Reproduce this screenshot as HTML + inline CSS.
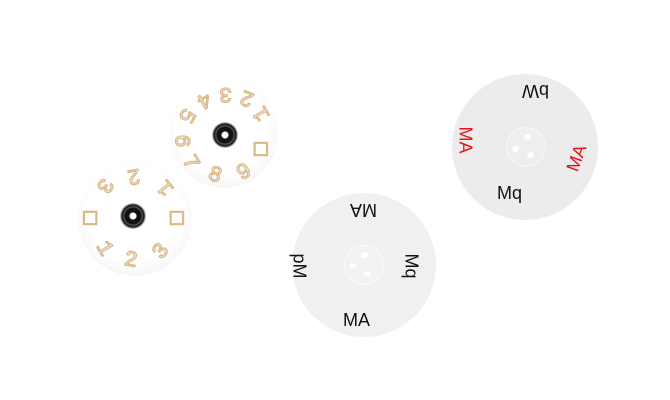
<!DOCTYPE html>
<html><head><meta charset="utf-8"><style>
html,body{margin:0;padding:0;background:#fff;width:670px;height:400px;overflow:hidden;position:relative}
.d{position:absolute;border-radius:50%}
.t{position:absolute;font-family:"Liberation Sans",sans-serif;white-space:nowrap;transform-origin:center;line-height:1}
.n{color:#fff;-webkit-text-stroke:1.3px #d9b98a;font-size:22px;font-family:"Liberation Mono",monospace}
.k{font-size:18px;color:#111;transform-origin:center}
.r{font-size:18px;color:#e8141c}
</style></head><body>
<!-- disc A -->
<div class="d" style="left:170px;top:78px;width:108px;height:110px;background:radial-gradient(circle at 48% 45%,#fff 55%,#f0f0f0 90%,#e6e6e6 100%)"></div>
<div class="t n" style="left:219px;top:82px;transform:rotate(180deg)">3</div>
<div class="t n" style="left:197px;top:88px;transform:rotate(150deg)">4</div>
<div class="t n" style="left:241px;top:86px;transform:rotate(200deg)">2</div>
<div class="t n" style="left:179px;top:104px;transform:rotate(120deg)">5</div>
<div class="t n" style="left:256px;top:102px;transform:rotate(240deg)">1</div>
<div class="t n" style="left:174px;top:130px;transform:rotate(90deg)">6</div>
<div class="t n" style="left:256px;top:138px;transform:rotate(270deg)">□</div>
<div class="t n" style="left:183px;top:152px;transform:rotate(60deg)">7</div>
<div class="t n" style="left:208px;top:165px;transform:rotate(20deg)">8</div>
<div class="t n" style="left:238px;top:162px;transform:rotate(-30deg)">9</div>
<div class="d" style="left:212px;top:122px;width:26px;height:26px;background:radial-gradient(circle,#fff 0 3px,#111 4px 8px,#555 9px,#111 11px,#888 12px,#ddd 13px)"></div>
<!-- disc B -->
<div class="d" style="left:78px;top:162px;width:114px;height:114px;background:radial-gradient(circle at 50% 45%,#fff 55%,#f0f0f0 90%,#e6e6e6 100%)"></div>
<div class="t n" style="left:127px;top:164px;transform:rotate(170deg)">2</div>
<div class="t n" style="left:97px;top:174px;transform:rotate(120deg)">3</div>
<div class="t n" style="left:160px;top:176px;transform:rotate(230deg)">1</div>
<div class="t n" style="left:82px;top:207px;transform:rotate(90deg)">□</div>
<div class="t n" style="left:172px;top:207px;transform:rotate(270deg)">□</div>
<div class="t n" style="left:97px;top:238px;transform:rotate(60deg)">1</div>
<div class="t n" style="left:124px;top:250px;transform:rotate(10deg)">2</div>
<div class="t n" style="left:155px;top:241px;transform:rotate(-50deg)">3</div>
<div class="d" style="left:120px;top:203px;width:26px;height:26px;background:radial-gradient(circle,#fff 0 3px,#111 4px 8px,#555 9px,#111 11px,#888 12px,#ddd 13px)"></div>
<!-- disc C -->
<div class="d" style="left:292px;top:193px;width:144px;height:144px;background:#f0f0f0"></div>
<div class="d" style="left:344px;top:245px;width:40px;height:40px;border:1px solid #fafafa;box-sizing:border-box;background:#f2f2f2"></div>
<div class="d" style="left:361px;top:252px;width:7px;height:6px;background:#fff"></div>
<div class="d" style="left:349px;top:263px;width:7px;height:6px;background:#fff"></div>
<div class="d" style="left:364px;top:271px;width:7px;height:6px;background:#fff"></div>
<div class="t k" style="left:350px;top:201px;transform:rotate(180deg)">MA</div>
<div class="t k" style="left:343px;top:311px;">MA</div>
<div class="t k" style="left:287px;top:257px;transform:rotate(90deg) scaleX(-1)">Mq</div>
<div class="t k" style="left:399px;top:257px;transform:rotate(90deg)">Mq</div>
<!-- disc D -->
<div class="d" style="left:452px;top:74px;width:146px;height:146px;background:#ececec"></div>
<div class="d" style="left:506px;top:127px;width:40px;height:40px;border:1px solid #f8f8f8;box-sizing:border-box;background:#eeeeee"></div>
<div class="d" style="left:524px;top:134px;width:7px;height:6px;background:#fff"></div>
<div class="d" style="left:512px;top:146px;width:7px;height:6px;background:#fff"></div>
<div class="d" style="left:527px;top:152px;width:7px;height:6px;background:#fff"></div>
<div class="t k" style="left:522px;top:82px;transform:rotate(180deg)">bW</div>
<div class="t k" style="left:497px;top:184px;">Mq</div>
<div class="t r" style="left:452px;top:131px;transform:rotate(90deg)">MA</div>
<div class="t r" style="left:563px;top:149px;transform:rotate(-70deg)">MA</div>
</body></html>
